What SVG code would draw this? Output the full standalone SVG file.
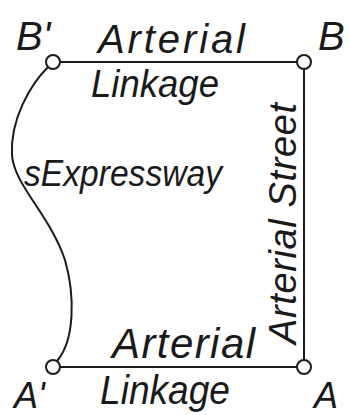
<svg xmlns="http://www.w3.org/2000/svg" width="350" height="415" viewBox="0 0 350 415">
<style>
.ln{fill:none;stroke:#1a1a1a;stroke-width:2}
.nd{fill:#fff;stroke:#1a1a1a;stroke-width:2}
text{font-family:"Liberation Sans",Arial,sans-serif;font-style:italic;fill:#1a1a1a}
</style>
<rect width="350" height="415" fill="#fff"/>
<g id="connectors">
<line class="ln" x1="60" y1="62" x2="297" y2="62"/>
<line class="ln" x1="304" y1="69" x2="304" y2="360"/>
<line class="ln" x1="60" y1="367" x2="297" y2="367"/>
<path class="ln" d="M48,67 C30,85 10,120 12,155 C14,185 50,215 65,260 C75,295 75,340 57,361"/>
</g>
<g id="nodeBp"><circle class="nd" cx="53" cy="62" r="7"/><text x="16" y="50" font-size="40">B'</text></g>
<g id="nodeB"><circle class="nd" cx="304" cy="62" r="7"/><text x="318" y="50" font-size="40">B</text></g>
<g id="nodeAp"><circle class="nd" cx="53" cy="367" r="7"/><text x="14" y="408" font-size="36">A'</text></g>
<g id="nodeA"><circle class="nd" cx="304" cy="367" r="7"/><text x="314" y="408" font-size="36">A</text></g>
<g id="labels">
<text x="98" y="53" font-size="40" textLength="147" lengthAdjust="spacing">Arterial</text>
<text x="91" y="97" font-size="38" textLength="128" lengthAdjust="spacingAndGlyphs">Linkage</text>
<text x="24" y="186" font-size="36" textLength="198" lengthAdjust="spacingAndGlyphs">sExpressway</text>
<text transform="translate(296,344) rotate(-90)" font-size="38" textLength="241" lengthAdjust="spacing">Arterial Street</text>
<text x="112" y="358" font-size="42" textLength="143" lengthAdjust="spacing">Arterial</text>
<text x="100" y="404" font-size="40" textLength="130" lengthAdjust="spacingAndGlyphs">Linkage</text>
</g>
</svg>
